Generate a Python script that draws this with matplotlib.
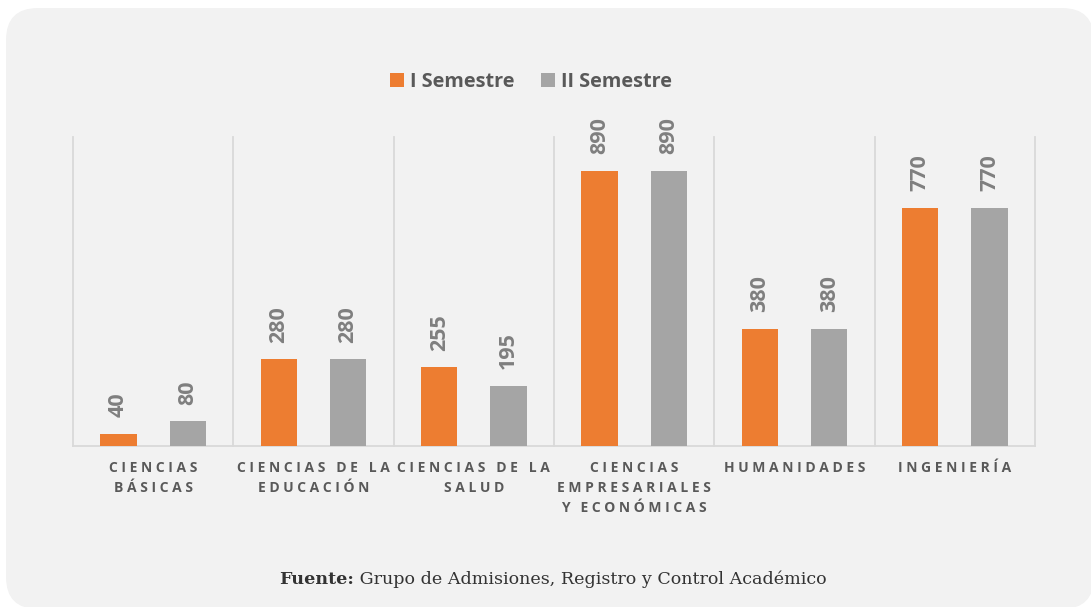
import matplotlib
matplotlib.use("Agg")
import matplotlib.pyplot as plt
from matplotlib.patches import FancyBboxPatch
from matplotlib.transforms import IdentityTransform
import numpy as np

# data
categories = ["CIENCIAS\nBÁSICAS", "CIENCIAS DE LA\nEDUCACIÓN", "CIENCIAS DE LA\nSALUD",
              "CIENCIAS\nEMPRESARIALES\nY ECONÓMICAS", "HUMANIDADES", "INGENIERÍA"]
sem1 = [40, 280, 255, 890, 380, 770]
sem2 = [80, 280, 195, 890, 380, 770]
series_names = ["I Semestre", "II Semestre"]
source_bold = "Fuente:"
source_rest = "Grupo de Admisiones, Registro y Control Académico"

ORANGE = "#ED7D31"
GRAY = "#A5A5A5"
TXT = "#595959"
LBL = "#7F7F7F"
GRID = "#D9D9D9"


def spaced(label):
    # imitate Excel's letter spacing on the category labels
    lines = []
    for line in label.split("\n"):
        lines.append("   ".join(" ".join(w) for w in line.split(" ")))
    return "\n".join(lines)


W, H = 1091, 607
fig = plt.figure(figsize=(W / 100, H / 100), dpi=100)
fig.patch.set_facecolor("white")

# rounded light grey panel behind everything
panel = FancyBboxPatch((6, -2), 1088, 601, boxstyle="round,pad=0,rounding_size=32",
                       transform=IdentityTransform(), facecolor="#F2F2F2",
                       edgecolor="none", zorder=-10)
fig.patches.append(panel)

ax = fig.add_axes([73 / W, (H - 446) / H, (1035 - 73) / W, (446 - 137) / H])
ax.set_facecolor("none")
ax.set_zorder(1)

x = np.arange(len(categories))
bw = 0.225
off = 0.216
b1 = ax.bar(x - off, sem1, bw, color=ORANGE, label=series_names[0], zorder=3)
b2 = ax.bar(x + off, sem2, bw, color=GRAY, label=series_names[1], zorder=3)

for bars, vals in ((b1, sem1), (b2, sem2)):
    for rect, v in zip(bars, vals):
        ax.annotate(str(v), (rect.get_x() + rect.get_width() / 2, v),
                    xytext=(0, 12), textcoords="offset points",
                    ha="center", va="bottom", rotation=90,
                    fontsize=15.5, fontweight="bold", color=LBL,
                    family=["Open Sans", "DejaVu Sans"])

ax.set_xlim(-0.5, len(categories) - 0.5)
ax.set_ylim(0, 1000)
for xv in np.arange(-0.5, len(categories), 1.0):
    ax.plot([xv, xv], [0, 1000], color=GRID, lw=1.3, zorder=1, clip_on=False)

for s in ("top", "right", "left"):
    ax.spines[s].set_visible(False)
ax.spines["bottom"].set_color(GRID)
ax.spines["bottom"].set_linewidth(1.3)
ax.set_yticks([])
ax.set_xticks(x)
ax.set_xticklabels([spaced(c) for c in categories], fontsize=10, fontweight="bold",
                   color=TXT, linespacing=1.55, family=["Open Sans", "DejaVu Sans"])
ax.tick_params(axis="x", length=0, pad=11)

fig.legend(loc="center", bbox_to_anchor=(531 / W, 1 - 82 / H), ncol=2, frameon=False,
           handlelength=0.7, handleheight=0.7, handletextpad=0.3, columnspacing=1.3,
           prop={"family": "Open Sans", "weight": "bold", "size": 14.3},
           labelcolor=TXT)

# source line: bold "Fuente:" followed by regular text, centred as a whole
src_kw = dict(fontsize=12.6, color="#333333", family=["DejaVu Serif"], va="center")
t1 = fig.text(0, 1 - 579 / H, source_bold, fontweight="bold", ha="left", **src_kw)
t2 = fig.text(0, 1 - 579 / H, " " + source_rest, ha="left", **src_kw)
fig.canvas.draw()
r = fig.canvas.get_renderer()
w1 = t1.get_window_extent(r).width
w2 = t2.get_window_extent(r).width
start = 553 - (w1 + w2) / 2
t1.set_x(start / W)
t2.set_x((start + w1) / W)

fig.savefig("out.png", dpi=100, facecolor=fig.get_facecolor())
